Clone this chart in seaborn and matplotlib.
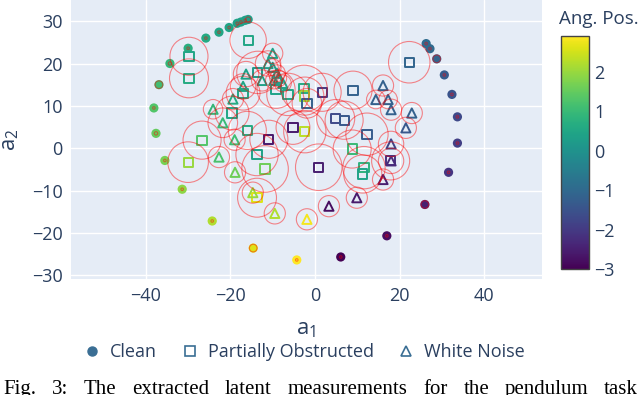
import numpy as np
import pandas as pd
import seaborn as sns
import matplotlib.pyplot as plt
from matplotlib.patches import Circle
from matplotlib.lines import Line2D
from matplotlib.colors import Normalize
from matplotlib.cm import ScalarMappable

# Clean measurements (filled circles)
clean_x = [-15.8, -16.5, -17.5, -18.4, -20.3, -22.7, -25.8, -30.0, -34.3, -36.9, -38.1, -37.6,
           -35.5, -31.4, -24.3, -14.6, -4.3, 6.1, 17.0, 26.0, 31.6, 33.7, 33.7, 32.4, 30.6, 28.8,
           27.2, 26.3]
clean_y = [30.4, 30.2, 29.8, 29.5, 28.5, 27.4, 26.0, 23.6, 20.0, 15.0, 9.5, 3.5,
           -2.9, -9.7, -17.2, -23.6, -26.4, -25.7, -20.7, -13.3, -5.7, 1.2, 7.4, 12.7, 17.3, 21.1,
           23.5, 24.7]
clean_ang = [0.3, 0.32, 0.35, 0.4, 0.45, 0.5, 0.58, 0.7, 0.9, 1.1, 1.3, 1.5,
             1.7, 1.9, 2.2, 2.6, 2.9, -3.0, -2.8, -2.5, -2.1, -1.9, -1.7, -1.5, -1.3, -1.1,
             -1.0, -0.95]
clean_unc = [0.6, 0.3, 0.3, 0.3, 0.3, 0.3, 0.3, 0.3, 0.4, 0.9, 0.3, 0.4,
             0.3, 0.3, 0.3, 0.9, 0.3, 0.3, 0.3, 0.9, 0.3, 0.3, 0.3, 0.3, 0.3, 0.9,
             0.3, 0.3]

# Partially obstructed measurements (open squares)
obs_x = [-15.8, -29.8, -29.8, -13.5, -9.2, -6.4, -2.6, -2.4, -1.9, 1.7, 9.0, 22.3, -17.0,
         -19.6, -16.0, -26.7, -30.0, -13.7, -11.8, -10.9, -5.2, -2.4, 0.9, -13.7, 4.9, 6.9,
         12.3, 8.8, 11.6, 11.3, 17.9]
obs_y = [25.5, 21.7, 16.5, 17.9, 13.9, 12.7, 14.1, 12.3, 10.6, 13.2, 13.7, 20.3, 13.0,
         8.3, 4.2, 1.9, -3.3, -1.5, -4.9, 2.1, 4.9, 3.9, -4.5, -11.7, 7.0, 6.6,
         3.3, -0.2, -4.6, -6.1, -3.0]
obs_ang = [0.5, 0.5, 0.6, 0.2, 0.4, 0.5, 0.6, 2.0, -1.2, -2.0, -1.2, -1.1, 0.5,
           0.5, 0.6, 1.3, 2.0, 0.4, 1.6, -2.6, -2.6, 2.3, -2.5, 2.6, -1.7, -1.4,
           -1.3, 1.0, 0.8, 0.4, -2.2]
obs_unc = [4.3, 4.5, 4.6, 5.0, 4.5, 5.0, 5.5, 4.5, 3.5, 4.5, 4.5, 4.9, 4.0,
           4.0, 4.5, 4.5, 4.8, 5.0, 5.5, 4.5, 4.0, 5.0, 5.5, 4.6, 4.5, 4.5,
           5.0, 4.5, 5.0, 4.5, 4.5]

# White noise measurements (open triangles)
noise_x = [-10.0, -16.3, -11.1, -10.0, -9.0, -8.7, -7.6, -9.7, -12.5, -17.0, -19.4, -24.1,
           -21.8, -19.0, -22.7, -18.9, -14.7, -9.5, -1.9, 3.3, 9.9, 16.1, 18.0, 18.0, 21.5,
           22.9, 18.0, 17.3, 14.4, 16.1]
noise_y = [22.4, 17.5, 20.0, 19.1, 17.7, 16.5, 15.3, 16.0, 16.0, 14.6, 11.6, 9.2,
           6.0, 2.0, -2.1, -5.7, -10.5, -15.4, -16.8, -13.7, -11.7, -7.4, -3.0, 1.0, 4.8,
           8.3, 9.1, 11.5, 11.5, 14.8]
noise_ang = [0.4, 0.4, 0.3, 0.3, 0.3, 0.3, 0.4, 0.3, 0.4, 0.5, 0.6, 0.9,
             1.0, 1.1, 1.2, 1.6, 2.0, 2.2, 2.8, -2.8, -2.6, -2.5, -2.3, -1.8, -1.4,
             -1.2, -1.2, -1.2, -1.2, -1.2]
noise_unc = [2.4, 3.0, 3.0, 2.0, 2.0, 2.0, 2.0, 2.0, 2.5, 3.0, 2.5, 2.3,
             3.5, 2.5, 2.5, 2.5, 2.5, 2.5, 2.5, 2.5, 2.5, 2.5, 3.0, 3.0, 2.5,
             2.5, 2.5, 2.2, 2.2, 2.5]

legend_labels = ['Clean', 'Partially Obstructed', 'White Noise']
caption = 'Fig. 3: The extracted latent measurements for the pendulum task'

clean = pd.DataFrame({'a1': clean_x, 'a2': clean_y, 'ang': clean_ang, 'unc': clean_unc})
obs = pd.DataFrame({'a1': obs_x, 'a2': obs_y, 'ang': obs_ang, 'unc': obs_unc})
noise = pd.DataFrame({'a1': noise_x, 'a2': noise_y, 'ang': noise_ang, 'unc': noise_unc})

sns.set_style('white')
plt.rcParams['font.family'] = ['Open Sans', 'DejaVu Sans']
plt.rcParams['mathtext.fontset'] = 'custom'
plt.rcParams['mathtext.rm'] = 'Open Sans'
plt.rcParams['mathtext.it'] = 'Open Sans'

txt = '#2a3f5f'
cmap = plt.get_cmap('viridis')
norm = Normalize(vmin=-3.0, vmax=2.9)

fig = plt.figure(figsize=(6.4, 3.95), dpi=100)
ax = fig.add_axes([71 / 640, 1 - 279 / 395, 471 / 640, 279 / 395])
ax.set_facecolor('#E5ECF6')

sns.scatterplot(data=clean, x='a1', y='a2', hue='ang', palette='viridis', hue_norm=norm,
                s=44, linewidth=0, legend=False, ax=ax, zorder=3)
ax.scatter(obs['a1'], obs['a2'], marker='s', s=44, facecolors='none',
           edgecolors=cmap(norm(obs['ang'])), linewidths=1.4, zorder=3)
ax.scatter(noise['a1'], noise['a2'], marker='^', s=44, facecolors='none',
           edgecolors=cmap(norm(noise['ang'])), linewidths=1.4, zorder=3)

# uncertainty circles
for d in (clean, obs, noise):
    for _, r in d.iterrows():
        ax.add_patch(Circle((r['a1'], r['a2']), r['unc'], fill=False, edgecolor='red',
                            alpha=0.45, linewidth=0.8, zorder=4))

ax.set_xlim(-57.7, 53.7)
ax.set_ylim(-30.9, 35.0)
ax.set_xticks([-40, -20, 0, 20, 40])
ax.set_yticks([-30, -20, -10, 0, 10, 20, 30])
ax.set_xticklabels(['\u221240', '\u221220', '0', '20', '40'])
ax.set_yticklabels(['\u221230', '\u221220', '\u221210', '0', '10', '20', '30'])
ax.grid(True, color='white', linewidth=1.0)
ax.set_axisbelow(True)
for s in ax.spines.values():
    s.set_visible(False)
ax.tick_params(length=0, labelsize=13, labelcolor=txt, pad=6)
ax.set_xlabel(r'a$_\mathregular{1}$', fontsize=16, color=txt, labelpad=10)
ax.set_ylabel(r'a$_\mathregular{2}$', fontsize=16, color=txt, labelpad=8)

# colorbar
cax = fig.add_axes([561 / 640, 1 - 269 / 395, 28 / 640, 233 / 395])
cb = fig.colorbar(ScalarMappable(norm=norm, cmap=cmap), cax=cax)
cb.set_ticks([-3, -2, -1, 0, 1, 2])
cb.set_ticklabels(['\u22123', '\u22122', '\u22121', '0', '1', '2'])
cb.ax.tick_params(length=0, labelsize=13, labelcolor=txt, pad=4)
cb.outline.set_edgecolor('#444444')
cb.outline.set_linewidth(1.0)
fig.text(559 / 640, 1 - 19 / 395, 'Ang. Pos.', fontsize=13.5, color=txt, va='center', ha='left')

# legend
lc = '#3a6e94'
handles = [Line2D([], [], marker='o', linestyle='', markersize=6.5, markerfacecolor=lc, markeredgecolor=lc),
           Line2D([], [], marker='s', linestyle='', markersize=7, markerfacecolor='none', markeredgecolor=lc, markeredgewidth=1.2),
           Line2D([], [], marker='^', linestyle='', markersize=7, markerfacecolor='none', markeredgecolor=lc, markeredgewidth=1.2)]
fig.legend(handles, legend_labels, loc='center',
           bbox_to_anchor=(303 / 640, 1 - 352 / 395), ncol=3, frameon=False, fontsize=13,
           labelcolor=txt, handletextpad=0.4, columnspacing=1.2, handlelength=1.2)

# figure caption, justified across the width (cut off at the bottom like the source)
renderer = fig.canvas.get_renderer()
words = caption.split(' ')
objs = [fig.text(0, 0.003, w, family='Liberation Serif', fontsize=15, color='black',
                 va='baseline', ha='left') for w in words]
widths = [o.get_window_extent(renderer).width for o in objs]
x0, x1 = 3.0, 638.0
gap = (x1 - x0 - sum(widths)) / (len(words) - 1)
xpos = x0
for o, w in zip(objs, widths):
    o.set_x(xpos / 640)
    xpos += w + gap

fig.savefig('out.png', dpi=100)
